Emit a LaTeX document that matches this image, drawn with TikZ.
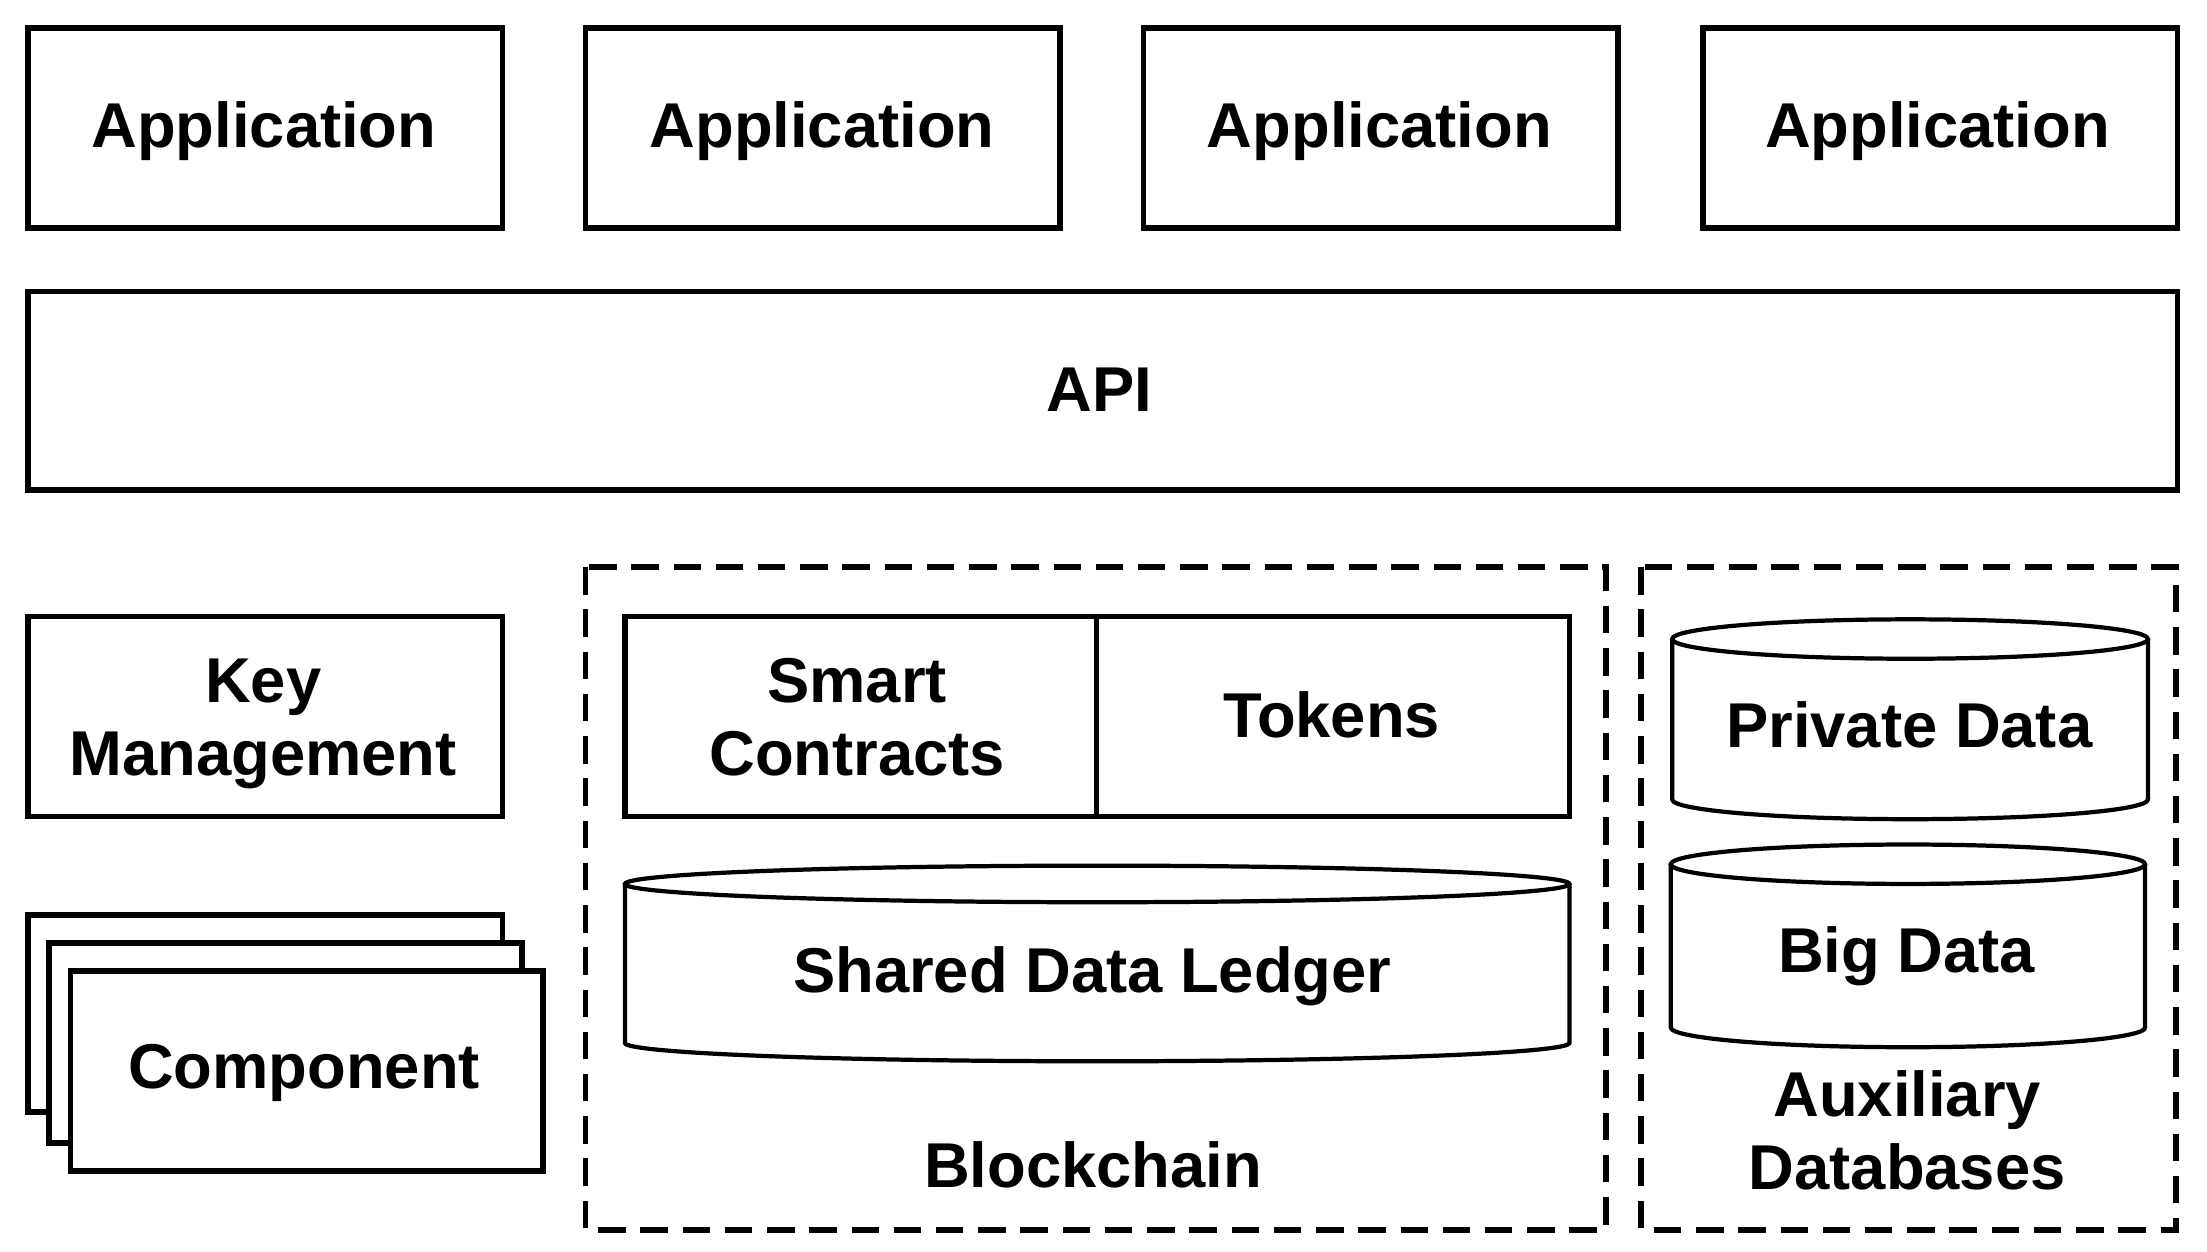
\documentclass[tikz,border=0pt]{standalone}
\usepackage{fontspec}
\setmainfont{Liberation Sans}
\newcommand\lbl{\fontsize{45}{52}\selectfont\bfseries}
\tikzset{
  box/.style={draw=black, line width=4pt, fill=white, inner sep=0pt, align=center, font=\lbl},
  txt/.style={inner sep=0pt, align=center, font=\lbl},
  cyl/.style={draw=black, line width=3pt, fill=white},
  group/.style={draw=black, line width=4pt, dash pattern=on 19.5pt off 10.5pt},
}
\begin{document}
\begin{tikzpicture}[x=1pt,y=-1pt]
\useasboundingbox (0,0) rectangle (1568,889.5);
% applications
\node[box, minimum width=337pt, minimum height=142pt] (app1) at (188.5,91) {};
\node[box, minimum width=337pt, minimum height=142pt] (app2) at (584.5,91) {};
\node[box, minimum width=337pt, minimum height=142pt] (app3) at (981,91) {};
\node[box, minimum width=337pt, minimum height=142pt] (app4) at (1378.5,91) {};
\node[txt] (app1t) at (187.5,94.5) {\strut Application};
\node[txt] (app2t) at (584,94.5) {\strut Application};
\node[txt] (app3t) at (980,94.5) {\strut Application};
\node[txt] (app4t) at (1376.5,94.5) {\strut Application};
% api
\node[box, minimum width=1527pt, minimum height=141pt] (api) at (783.5,277.5) {};
\node[txt] (apit) at (781,282) {\strut API};
% key management
\node[box, minimum width=337pt, minimum height=142pt] (key) at (188.5,509) {};
\node[txt] (keyt) at (187,514.4) {\strut Key\\\strut Management};
% component stack
\node[box, minimum width=337pt, minimum height=140pt] (comp3) at (188.5,720) {};
\node[box, minimum width=336pt, minimum height=142pt] (comp2) at (203,741) {};
\node[box, minimum width=336pt, minimum height=142pt] (comp1) at (218,761) {};
\node[txt] (comp1t) at (216,763) {\strut Component};
% blockchain group
\draw[group] (416,403) rectangle (1141,874);
\node[box, minimum width=335pt, minimum height=142pt] (smart) at (611.5,509) {};
\node[box, minimum width=336pt, minimum height=142pt] (tokens) at (947,509) {};
\node[txt] (smartt) at (609,514.4) {\strut Smart\\\strut Contracts};
\node[txt] (tokenst) at (946,513.7) {\strut Tokens};
% ledger cylinder
\draw[cyl] (444,628) -- (444,741) arc[start angle=180, end angle=360, x radius=335.5pt, y radius=13pt] -- (1115,628);
\draw[cyl] (779.5,628) ellipse[x radius=335.5pt, y radius=13pt];
\node[txt] (ledger) at (776,695) {\strut Shared Data Ledger};
\node[txt] (bc) at (776.5,833) {\strut Blockchain};
% auxiliary group
\draw[group] (1166,403) rectangle (1546,874);
\draw[cyl] (1188,454) -- (1188,568) arc[start angle=180, end angle=360, x radius=169pt, y radius=14pt] -- (1526,454);
\draw[cyl] (1357,454) ellipse[x radius=169pt, y radius=14pt];
\node[txt] (priv) at (1356.5,521) {\strut Private Data};
\draw[cyl] (1187,614) -- (1187,730) arc[start angle=180, end angle=360, x radius=168.5pt, y radius=14pt] -- (1524,614);
\draw[cyl] (1355.5,614) ellipse[x radius=168.5pt, y radius=14pt];
\node[txt] (big) at (1354.5,680.7) {\strut Big Data};
\node[txt] (aux) at (1355,809) {\strut Auxiliary\\\strut Databases};
\end{tikzpicture}
\end{document}
